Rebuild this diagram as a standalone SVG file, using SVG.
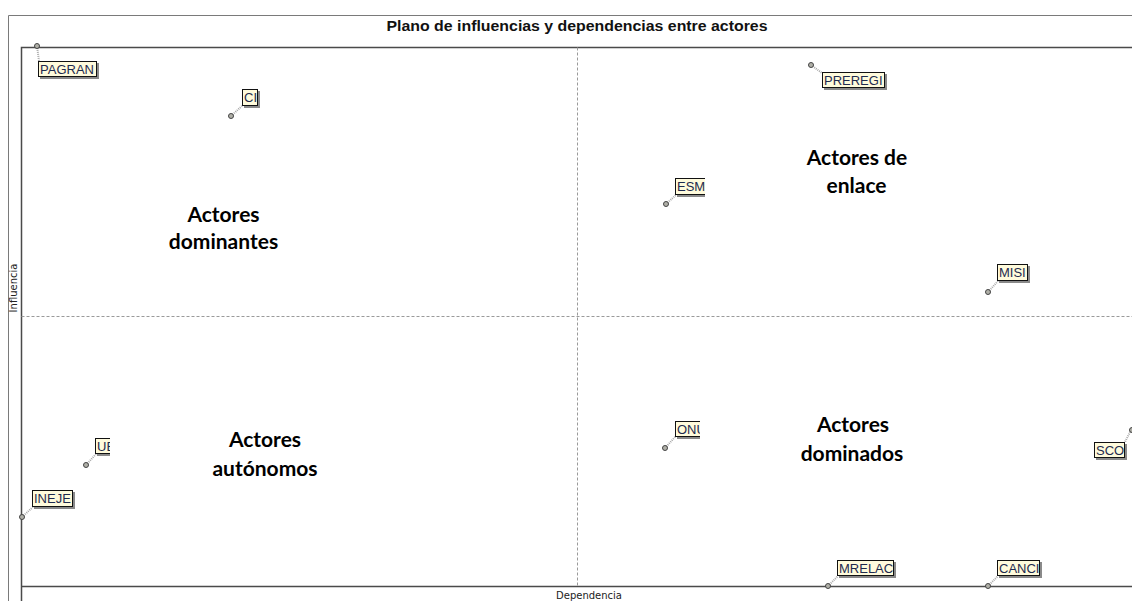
<svg xmlns="http://www.w3.org/2000/svg" width="1132" height="601" viewBox="0 0 1132 601">
<style>
.frame{fill:none;stroke:#7a7a7a;stroke-width:1}
.axis{fill:none;stroke:#4a4a4a;stroke-width:1.5}
.mid{fill:none;stroke:#9a9a9a;stroke-width:1;stroke-dasharray:3 2}
.title{font-family:"Liberation Sans",Arial,sans-serif;font-weight:bold;font-size:14px;fill:#111;text-anchor:middle}
.axl{font-family:"DejaVu Sans","Liberation Sans",sans-serif;font-size:10px;fill:#222;text-anchor:middle}
.quad{font-family:Lato,"Open Sans",sans-serif;font-weight:bold;font-size:21px;fill:#000;text-anchor:middle}
.box{fill:#fffbdc;stroke:#111;stroke-width:1}
.shadow{fill:#8a8a8a}
.lbl{font-family:"Liberation Sans",Arial,sans-serif;font-size:13px;fill:#1e2a4e}
.pt{fill:#b0b0a8;stroke:#444;stroke-width:1}
.con{fill:none;stroke:#aaa;stroke-width:2;stroke-dasharray:1 1}
</style>
<defs>
<clipPath id="cESM"><rect x="670" y="170" width="35" height="30"/></clipPath>
<clipPath id="cUB"><rect x="90" y="430" width="20" height="30"/></clipPath>
<clipPath id="cONU"><rect x="670" y="414" width="30" height="30"/></clipPath>
</defs>
<rect width="1132" height="601" fill="#fff"/>
<g id="frame">
<path class="frame" d="M8.5 601 V15.5 H1132"/>
<text class="title" x="577" y="31" textLength="381" lengthAdjust="spacingAndGlyphs">Plano de influencias y dependencias entre actores</text>
<path class="axis" d="M21.5 601 V586.5 M21.5 586.5 V47.5 H1132 M21.5 586.5 H1132"/>
<path class="mid" d="M577.5 47.5 V586 M21.5 316.5 H1132"/>
<text class="axl" x="589" y="599">Dependencia</text>
<text class="axl" transform="translate(16.5 288) rotate(-90)">Influencia</text>
</g>
<g id="quadrants">
<text class="quad" x="223.5" y="222">Actores</text>
<text class="quad" x="223.5" y="249">dominantes</text>
<text class="quad" x="857" y="165">Actores de</text>
<text class="quad" x="856.5" y="193">enlace</text>
<text class="quad" x="265" y="447">Actores</text>
<text class="quad" x="265" y="476">autónomos</text>
<text class="quad" x="853" y="432">Actores</text>
<text class="quad" x="852" y="461">dominados</text>
</g>
<g id="connectors">
<path class="con" d="M37 46 L39 61"/>
<path class="con" d="M231 116 L242 106"/>
<path class="con" d="M811 65 L822 73"/>
<path class="con" d="M666 204 L676 195"/>
<path class="con" d="M988 292 L998 281"/>
<path class="con" d="M1131 430 L1125 442"/>
<path class="con" d="M86 465 L96 454"/>
<path class="con" d="M22 517 L33 507"/>
<path class="con" d="M665 448 L676 436"/>
<path class="con" d="M828 586 L838 576"/>
<path class="con" d="M988 586 L998 576"/>
</g>
<g id="PAGRAN">
<circle class="pt" cx="37" cy="46" r="2.5"/>
<rect class="shadow" x="40" y="63" width="59" height="16"/>
<rect class="box" x="38.5" y="61.5" width="58" height="15"/>
<text class="lbl" x="40" y="74">PAGRAN</text>
</g>
<g id="CI">
<circle class="pt" cx="231" cy="116" r="2.5"/>
<rect class="shadow" x="244" y="91" width="16" height="17"/>
<rect class="box" x="242.5" y="89.5" width="15" height="16"/>
<text class="lbl" x="244" y="102">CI</text>
</g>
<g id="PREREGI">
<circle class="pt" cx="811" cy="65" r="2.5"/>
<rect class="shadow" x="824" y="74" width="63" height="16"/>
<rect class="box" x="822.5" y="72.5" width="62" height="15"/>
<text class="lbl" x="824" y="85">PREREGI</text>
</g>
<g id="ESM">
<circle class="pt" cx="666" cy="204" r="2.5"/>
<g clip-path="url(#cESM)">
<rect class="shadow" x="677" y="180" width="40" height="17"/>
<rect class="box" x="675.5" y="178.5" width="40" height="16"/>
<text class="lbl" x="677" y="191">ESM</text>
</g>
</g>
<g id="MISI">
<circle class="pt" cx="988" cy="292" r="2.5"/>
<rect class="shadow" x="999" y="266" width="31" height="17"/>
<rect class="box" x="997.5" y="264.5" width="30" height="16"/>
<text class="lbl" x="999" y="277">MISI</text>
</g>
<g id="SCO">
<circle class="pt" cx="1132" cy="430" r="2.5"/>
<rect class="shadow" x="1096" y="444" width="31" height="16"/>
<rect class="box" x="1094.5" y="442.5" width="30" height="15"/>
<text class="lbl" x="1096" y="455">SCO</text>
</g>
<g id="UB">
<circle class="pt" cx="86" cy="465" r="2.5"/>
<g clip-path="url(#cUB)">
<rect class="shadow" x="97" y="440" width="30" height="16"/>
<rect class="box" x="95.5" y="438.5" width="30" height="15"/>
<text class="lbl" x="97" y="451">UB</text>
</g>
</g>
<g id="INEJE">
<circle class="pt" cx="22" cy="517" r="2.5"/>
<rect class="shadow" x="34" y="492" width="41" height="17"/>
<rect class="box" x="32.5" y="490.5" width="40" height="16"/>
<text class="lbl" x="34" y="503">INEJE</text>
</g>
<g id="ONU">
<circle class="pt" cx="665" cy="448" r="2.5"/>
<g clip-path="url(#cONU)">
<rect class="shadow" x="677" y="423" width="40" height="16"/>
<rect class="box" x="675.5" y="421.5" width="40" height="15"/>
<text class="lbl" x="677" y="434">ONU</text>
</g>
</g>
<g id="MRELAC">
<circle class="pt" cx="828" cy="586" r="2.5"/>
<rect class="shadow" x="839" y="562" width="57" height="16"/>
<rect class="box" x="837.5" y="560.5" width="56" height="15"/>
<text class="lbl" x="839" y="573">MRELAC</text>
</g>
<g id="CANCI">
<circle class="pt" cx="988" cy="586" r="2.5"/>
<rect class="shadow" x="999" y="562" width="43" height="16"/>
<rect class="box" x="997.5" y="560.5" width="42" height="15"/>
<text class="lbl" x="999" y="573">CANCI</text>
</g>
</svg>
